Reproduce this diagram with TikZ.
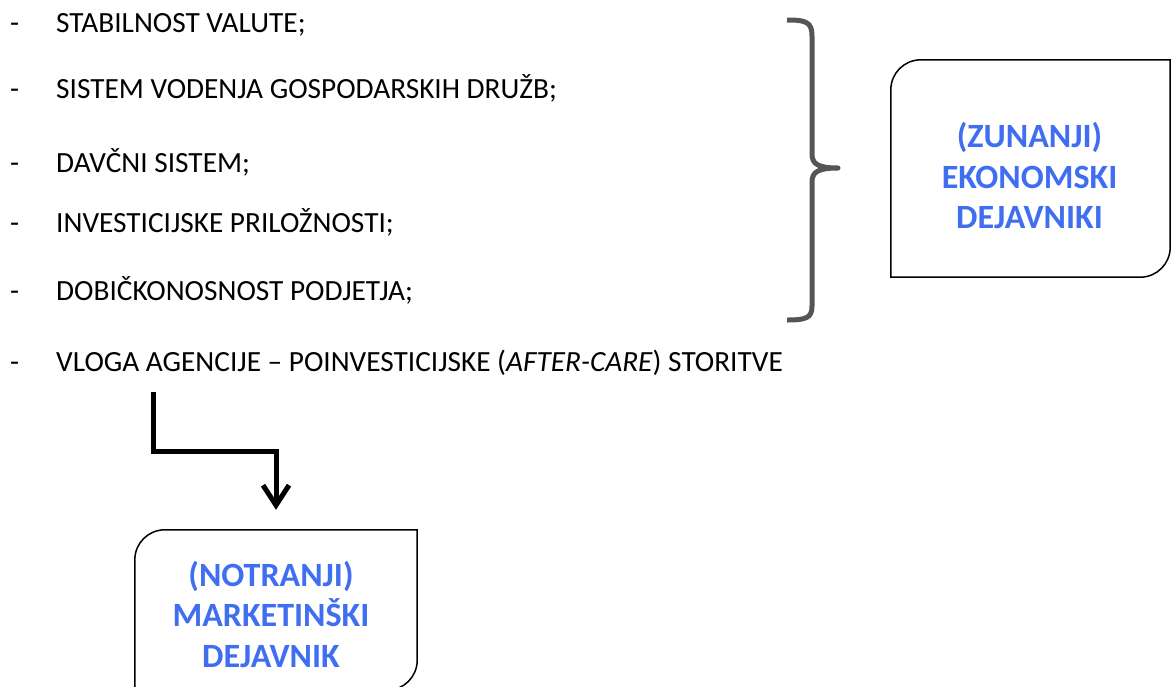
\documentclass[tikz,border=0pt]{standalone}
\usepackage{fontspec}
\setmainfont{Carlito}
\usetikzlibrary{arrows.meta,calc}
\definecolor{factorblue}{RGB}{64,110,240}
\definecolor{bracegray}{RGB}{85,85,85}
\begin{document}
\begin{tikzpicture}[x=1pt,y=1pt,
  item/.style={anchor=base west,inner sep=0pt,font=\fontsize{29.3}{31}\selectfont},
  bullet/.style={anchor=base west,inner sep=0pt,font=\fontsize{29.3}{31}\selectfont},
  factor/.style={inner sep=0pt,align=center,text=factorblue,
    font=\fontsize{34}{40.5}\selectfont\bfseries},
  frame/.style={inner sep=0pt},
  boxline/.style={draw=black,line width=1.5pt},
  conn/.style={draw=black,line width=5pt,-{Straight Barb[length=20pt,width=26pt]}},
  bracket/.style={draw=bracegray,line width=5pt,line join=round}]
\useasboundingbox (0,0) rectangle (1172,-686);
\clip (0,0) rectangle (1172,-686);

% list of factors
\foreach \i/\y/\t in {1/32/{STABILNOST VALUTE;},
                      2/98/{SISTEM VODENJA GOSPODARSKIH DRUŽB;},
                      3/172/{DAVČNI SISTEM;},
                      4/232/{INVESTICIJSKE PRILOŽNOSTI;},
                      5/300/{DOBIČKONOSNOST PODJETJA;}}{
  \node[bullet] (d\i) at (10,-\y) {-};
  \node[item] (t\i) at (56,-\y) {\t};
}
\node[bullet] (d6) at (10,-371) {-};
\node[item] (t6) at (56,-371) {VLOGA AGENCIJE – POINVESTICIJSKE (\textit{AFTER-CARE}) STORITVE};

% curly brace grouping the economic factors
\draw[bracket] (787,-20) .. controls (806,-20) and (812,-22) .. (812,-36)
  -- (812,-154) .. controls (812,-164) and (818,-168) .. (838,-168)
  .. controls (818,-168) and (812,-172) .. (812,-182)
  -- (812,-306) .. controls (812,-318) and (806,-320) .. (787,-320);

% external economic factors box
\node[frame,minimum width=279pt,minimum height=217pt] (eko) at (1030.5,-168.5) {};
\node[factor] (ekotxt) at ([xshift=-1pt,yshift=-7pt]eko.center)
  {(ZUNANJI)\\EKONOMSKI\\DEJAVNIKI};
\draw[boxline] (eko.south west) -- ([yshift=-30pt]eko.north west)
  arc[start angle=180,end angle=90,radius=30pt] -- (eko.north east)
  -- ([yshift=30pt]eko.south east)
  arc[start angle=0,end angle=-90,radius=30pt] -- cycle;

% internal marketing factor box
\node[frame,minimum width=282pt,minimum height=160pt] (mkt) at (276,-610) {};
\node[factor] (mkttxt) at ([xshift=-5pt,yshift=-4pt]mkt.center)
  {(NOTRANJI)\\MARKETINŠKI\\DEJAVNIK};
\draw[boxline] (mkt.south west) -- ([yshift=-30pt]mkt.north west)
  arc[start angle=180,end angle=90,radius=30pt] -- (mkt.north east)
  -- ([yshift=30pt]mkt.south east)
  arc[start angle=0,end angle=-90,radius=30pt] -- cycle;

% connector from the agency role to the marketing factor
\coordinate (src) at (153,-392);
\coordinate (turn) at (mkt.north |- 0,-451);
\draw[conn,shorten >=20pt] (src) |- (turn) -- (mkt.north);
\end{tikzpicture}
\end{document}
